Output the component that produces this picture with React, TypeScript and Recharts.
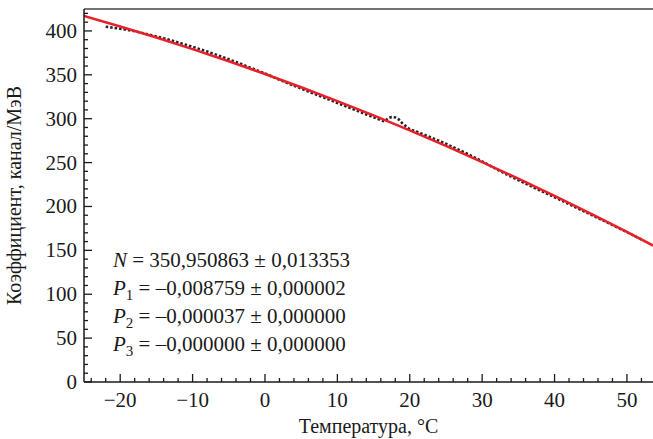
import { LineChart, Line, XAxis, YAxis, ReferenceLine } from 'recharts';

// аппроксимация (красная линия)
const fitT = [-25, -20, -15, -10, -5, 0, 5, 10, 15, 20, 25, 30, 35, 40, 45, 50, 53.6];
const fitV = [417.0, 405.0, 392.5, 379.3, 365.4, 350.95, 335.8, 320.1, 303.7, 286.6, 269.0, 250.6, 231.7, 212.1, 191.9, 171.0, 155.5];

// измерения (точечная линия)
const measT = [
  -22, -21, -20, -19, -18, -17, -16, -15, -14, -13, -12, -11, -10, -9, -8, -7, -6, -5, -4, -3, -2, -1,
  0, 1, 2, 3, 4, 5, 6, 7, 8, 9, 10, 11, 12, 13, 14, 15, 16, 16.5, 17, 17.5, 18, 18.5, 19, 20,
  21, 22, 23, 24, 25, 26, 27, 28, 29, 30, 31, 32, 33, 34, 35, 36, 37, 38, 39, 40, 41, 42, 43, 44,
  45, 46, 47, 48, 49, 50, 51, 52,
];
const measV = [
  404.9, 403.7, 402.5, 401.2, 399.6, 397.8, 395.8, 393.8, 391.7, 389.4, 386.9, 384.5, 381.9, 379.3, 376.6, 373.7, 370.9, 367.7, 364.6, 361.4, 358.1, 354.8,
  351.5, 348.0, 344.4, 340.9, 337.6, 334.2, 330.9, 327.7, 324.5, 321.2, 317.9, 314.6, 311.4, 308.1, 304.8, 301.6, 298.3, 296.8, 300.5, 302.0, 301.5, 299.0, 294.5, 288.1,
  285.1, 281.8, 278.5, 275.0, 271.5, 267.6, 263.8, 259.8, 255.7, 251.4, 246.9, 242.3, 238.1, 234.0, 230.0, 226.0, 222.1, 218.2, 214.3, 210.5, 206.6, 202.6, 198.6, 194.6,
  190.7, 186.7, 182.8, 178.8, 174.8, 170.7, 166.6, 162.4,
];

const xTicks = [-24, -22, -20, -18, -16, -14, -12, -10, -8, -6, -4, -2, 0, 2, 4, 6, 8, 10, 12, 14, 16, 18, 20, 22, 24, 26, 28, 30, 32, 34, 36, 38, 40, 42, 44, 46, 48, 50, 52];
const yTicks = [0, 10, 20, 30, 40, 50, 60, 70, 80, 90, 100, 110, 120, 130, 140, 150, 160, 170, 180, 190, 200, 210, 220, 230, 240, 250, 260, 270, 280, 290, 300, 310, 320, 330, 340, 350, 360, 370, 380, 390, 400, 410, 420];

// параметры аппроксимации
const parName = ['N', 'P', 'P', 'P'];
const parIdx = ['', '1', '2', '3'];
const parVal = ['350,950863', '–0,008759', '–0,000037', '–0,000000'];
const parErr = ['0,013353', '0,000002', '0,000000', '0,000000'];

const fitData = fitT.map((t, i) => ({ t, v: fitV[i] }));
const measData = measT.map((t, i) => ({ t, v: measV[i] }));

const FONT = 'Tinos';
const INK = '#1a1a1a';

const fmt = (v: number) => (v < 0 ? '−' + Math.abs(v) : String(v));

const XTick = (props: any) => {
  const { x, y, payload } = props;
  const major = payload.value % 10 === 0;
  return (
    <g>
      <line x1={x} x2={x} y1={y} y2={y - (major ? 8 : 4)} stroke={INK} strokeWidth={1.3} />
      {major && (
        <text x={x} y={y + 25} textAnchor="middle" fontSize={21} fontFamily={FONT} fill={INK}>
          {fmt(payload.value)}
        </text>
      )}
    </g>
  );
};

const YTick = (props: any) => {
  const { x, y, payload } = props;
  const major = payload.value % 50 === 0;
  return (
    <g>
      <line x1={x} x2={x + (major ? 8 : 4)} y1={y} y2={y} stroke={INK} strokeWidth={1.3} />
      {major && (
        <text x={x - 7} y={y + 7} textAnchor="end" fontSize={21} fontFamily={FONT} fill={INK}>
          {payload.value}
        </text>
      )}
    </g>
  );
};

export default function App() {
  return (
    <div style={{ position: 'absolute', left: 0, top: 0, width: 653, height: 439, background: '#fff', color: INK, fontFamily: FONT }}>
      <LineChart width={653} height={439} margin={{ top: 9, right: 0, bottom: 0, left: 0 }}>
        <XAxis
          type="number"
          dataKey="t"
          domain={[-25, 53.6]}
          allowDataOverflow
          ticks={xTicks}
          interval={0}
          tick={<XTick />}
          tickLine={false}
          tickSize={0}
          tickMargin={0}
          height={57}
          axisLine={{ stroke: INK, strokeWidth: 1.5 }}
          label={{ value: 'Температура, °C', position: 'insideBottom', offset: 6, fontSize: 20, fontFamily: FONT, fill: INK }}
        />
        <YAxis
          type="number"
          domain={[0, 425]}
          allowDataOverflow
          ticks={yTicks}
          interval={0}
          tick={<YTick />}
          tickLine={false}
          tickSize={0}
          tickMargin={0}
          width={84}
          axisLine={{ stroke: INK, strokeWidth: 1.5 }}
          label={{ value: 'Коэффициент, канал/МэВ', angle: -90, position: 'insideLeft', offset: 14, fontSize: 20, fontFamily: FONT, fill: INK, style: { textAnchor: 'middle' } }}
        />
        <ReferenceLine y={425} stroke="#444" strokeWidth={1.5} />
        <Line data={measData} dataKey="v" stroke="#222" strokeWidth={2.5} strokeDasharray="2.5 2" dot={false} isAnimationActive={false} />
        <Line data={fitData} dataKey="v" type="monotone" stroke="#e8202a" strokeWidth={2.5} dot={false} isAnimationActive={false} />
      </LineChart>
      {parName.map((n, i) => (
        <div
          key={i}
          style={{ position: 'absolute', left: 113, top: 248 + i * 28, fontSize: 21, lineHeight: '24px', whiteSpace: 'nowrap', fontFamily: FONT }}
        >
          <i>{n}</i>
          {parIdx[i] && <span style={{ fontSize: 15, position: 'relative', top: 5 }}>{parIdx[i]}</span>}
          {` = ${parVal[i]} ± ${parErr[i]}`}
        </div>
      ))}
    </div>
  );
}
